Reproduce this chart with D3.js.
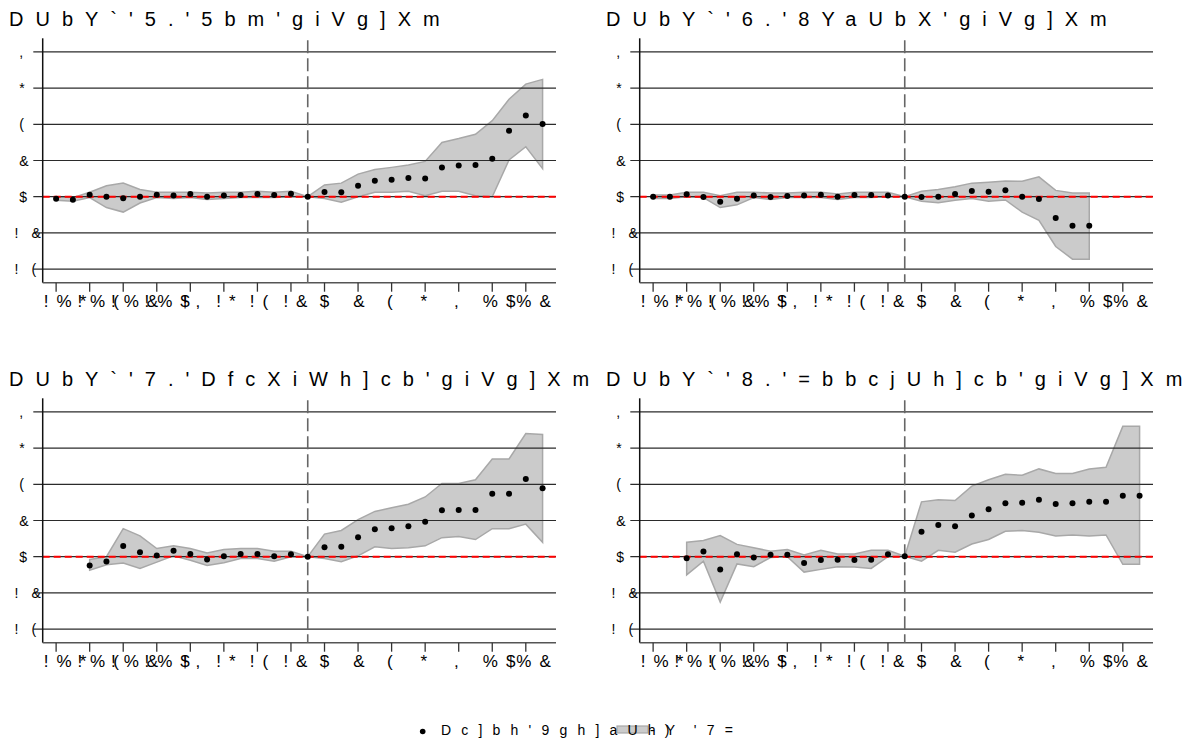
<!DOCTYPE html>
<html>
<head>
<meta charset="utf-8">
<style type="text/css">
body { margin: 0; background: #fff; }
text { font-family: "Liberation Sans", Arial, sans-serif; fill: #000; }
.grid { stroke: #2b2b2b; stroke-width: 1.2; }
.band { fill: #cbcbcb; stroke: #a8a8a8; stroke-width: 1.5; }
.zero { stroke: #ff0000; stroke-width: 2; stroke-dasharray: 7,4; }
.vline { stroke: #666; stroke-width: 1.6; stroke-dasharray: 13,5; }
</style>
<script src="https://cdn.jsdelivr.net/npm/d3@7"></script>
</head>
<body>
<script type="text/javascript">
var width = 1191, height = 747;

// event time
var times = [-16,-15,-14,-13,-12,-11,-10,-9,-8,-7,-6,-5,-4,-3,-2,-1,0,1,2,3,4,5,6,7,8,9,10,11,12,13];
var xTicks = [-16,-14,-12,-10,-8,-6,-4,-2,0,2,4,6,8,10,12];
var yTicks = [-4,-2,0,2,4,6,8];
var titles = ["Panel A: Any subsidy", "Panel B: Demand subsidy", "Panel C: Production subsidy", "Panel D: Innovation subsidy"];
var legendLabels = ["Point Estimate", "95% CI"];

// Panel A
var estA = [-0.11,-0.17,0.11,0,-0.09,0,0.11,0.06,0.15,0,0.07,0.09,0.15,0.09,0.17,0,0.26,0.24,0.61,0.88,0.94,1.03,1.0,1.62,1.73,1.75,2.09,3.64,4.49,4.01];
var hiA  = [0.0,-0.05,0.25,0.6,0.75,0.4,0.25,0.25,0.25,0.2,0.25,0.25,0.3,0.25,0.3,0,0.65,0.75,1.25,1.5,1.62,1.75,1.95,3.0,3.21,3.45,4.2,5.38,6.22,6.48];
var loA  = [-0.2,-0.25,-0.05,-0.6,-0.85,-0.35,-0.05,-0.1,-0.05,-0.15,-0.1,-0.05,-0.05,-0.05,0.0,0,-0.1,-0.3,0.0,0.25,0.25,0.3,0.05,0.3,0.3,0.05,0.0,2.03,2.76,1.55];

// Panel B
var estB = [0,0,0.13,-0.02,-0.28,-0.11,0.07,-0.02,0.04,0.07,0.11,0,0.09,0.09,0.07,0,-0.02,0,0.15,0.31,0.28,0.35,0,-0.13,-1.18,-1.6,-1.6,null,null,null];
var hiB  = [0.1,0.1,0.25,0.25,0.05,0.25,0.25,0.2,0.2,0.25,0.25,0.15,0.25,0.25,0.25,0,0.3,0.4,0.55,0.75,0.8,0.87,0.85,1.1,0.35,0.2,0.2,null,null,null];
var loB  = [-0.1,-0.1,0.0,-0.05,-0.6,-0.45,-0.05,-0.15,-0.05,-0.05,-0.05,-0.15,-0.05,-0.05,0.0,0,-0.25,-0.33,-0.2,-0.1,-0.25,-0.18,-0.85,-1.3,-2.75,-3.45,-3.45,null,null,null];

// Panel C
var estC = [null,null,-0.48,-0.26,0.59,0.24,0.07,0.33,0.15,-0.15,0.02,0.15,0.15,0.02,0.13,0,0.52,0.55,1.07,1.51,1.57,1.68,1.93,2.56,2.58,2.58,3.48,3.48,4.29,3.78];
var hiC  = [null,null,-0.15,0.0,1.55,1.15,0.45,0.6,0.45,0.2,0.4,0.45,0.45,0.3,0.3,0,1.25,1.45,2.05,2.5,2.7,2.9,3.3,4.05,4.05,4.25,5.4,5.4,6.8,6.75];
var loC  = [null,null,-0.75,-0.45,-0.35,-0.65,-0.3,0.05,-0.2,-0.48,-0.33,-0.1,-0.1,-0.25,0.0,0,-0.1,-0.28,0.05,0.55,0.45,0.5,0.6,1.05,1.12,0.95,1.55,1.55,1.8,0.8];

// Panel D
var estD = [null,null,-0.09,0.29,-0.7,0.13,-0.04,0.11,0.11,-0.35,-0.18,-0.17,-0.18,-0.17,0.13,0.03,1.38,1.75,1.68,2.28,2.62,2.95,2.98,3.15,2.91,2.95,3.04,3.04,3.37,3.37];
var hiD  = [null,null,0.8,0.9,1.17,0.68,0.5,0.3,0.4,0.1,0.35,0.15,0.15,0.35,0.35,0.03,3.03,3.15,3.1,3.9,4.25,4.55,4.5,4.85,4.6,4.6,4.85,4.94,7.2,7.2];
var loD  = [null,null,-1.0,-0.25,-2.5,-0.4,-0.55,-0.05,0.0,-0.85,-0.7,-0.55,-0.57,-0.65,0.0,0.03,-0.25,0.35,0.25,0.7,0.95,1.4,1.45,1.35,1.15,1.2,1.15,1.2,-0.42,-0.42];

var panels = [
	{ title: titles[0], est: estA, hi: hiA, lo: loA, dx: 0,   dy: 0 },
	{ title: titles[1], est: estB, hi: hiB, lo: loB, dx: 597, dy: 0 },
	{ title: titles[2], est: estC, hi: hiC, lo: loC, dx: 0,   dy: 360 },
	{ title: titles[3], est: estD, hi: hiD, lo: loD, dx: 597, dy: 360 }
];

// the picture shows every character shifted down by 12 code points
function garble(s) {
	return s.split("").map(function(c) {
		if (c === " ") return "'";
		var k = c.charCodeAt(0) - 12;
		return k < 33 ? " " : String.fromCharCode(k);
	}).join("");
}
function tickText(v) { return String(v); }

var svg = d3.select("body").append("svg").attr("width", width).attr("height", height);

// measure the width of the real label text
var meas = svg.append("text").attr("x", -1000).attr("y", -1000);
function textWidth(s, size) {
	meas.style("font-size", size + "px").text(s);
	return meas.node().getComputedTextLength();
}

var x = d3.scaleLinear().domain([-16.8, 13.8]).range([42.7, 556]);
var y = d3.scaleLinear().domain([-4.75, 8.75]).range([282.7, 38.3]);

panels.forEach(function(p) {
	var g = svg.append("g").attr("transform", "translate(" + p.dx + "," + p.dy + ")");
	var pts = times.map(function(t, i) { return { t: t, e: p.est[i], hi: p.hi[i], lo: p.lo[i] }; })
		.filter(function(d) { return d.e !== null; });

	// title
	g.append("text").attr("x", 9).attr("y", 26)
		.style("font-size", "20px").style("letter-spacing", "12px")
		.text(garble(p.title));

	// CI band
	var area = d3.area().x(function(d) { return x(d.t); })
		.y0(function(d) { return y(d.lo); }).y1(function(d) { return y(d.hi); });
	g.append("path").datum(pts).attr("class", "band").attr("d", area);

	// grid lines with y ticks
	g.selectAll(".grid").data(yTicks).enter().append("line")
		.attr("class", "grid")
		.attr("x1", 33.3).attr("x2", x.range()[1])
		.attr("y1", function(d) { return y(d); }).attr("y2", function(d) { return y(d); });

	// y labels
	g.selectAll(".ylab").data(yTicks).enter().append("text")
		.attr("class", "ylab")
		.attr("x", function(d) { return 27 - textWidth(tickText(d), 14); })
		.attr("y", function(d) { return y(d); })
		.attr("dy", "0.36em")
		.style("font-size", "14px").style("letter-spacing", "13px")
		.text(function(d) { return garble(tickText(d)); });

	// zero reference
	g.append("line").attr("class", "zero")
		.attr("x1", x.range()[0]).attr("x2", x.range()[1])
		.attr("y1", y(0)).attr("y2", y(0));

	// axes
	g.append("line").attr("x1", x.range()[0]).attr("x2", x.range()[0])
		.attr("y1", y.range()[1]).attr("y2", y.range()[0])
		.style("stroke", "#111").style("stroke-width", 1.5);
	g.append("line").attr("x1", x.range()[0]).attr("x2", x.range()[1])
		.attr("y1", y.range()[0]).attr("y2", y.range()[0])
		.style("stroke", "#555").style("stroke-width", 1.5);
	g.selectAll(".xtick").data(xTicks).enter().append("line")
		.attr("class", "xtick")
		.attr("x1", function(d) { return x(d); }).attr("x2", function(d) { return x(d); })
		.attr("y1", y.range()[0]).attr("y2", y.range()[0] + 9)
		.style("stroke", "#333").style("stroke-width", 1.3);
	g.selectAll(".xlab").data(xTicks).enter().append("text")
		.attr("class", "xlab")
		.attr("x", function(d) { return x(d) - textWidth(tickText(d), 17) / 2; })
		.attr("y", 306.7)
		.style("font-size", "17px").style("letter-spacing", "8px")
		.text(function(d) { return garble(tickText(d)); });

	// treatment line
	g.append("line").attr("class", "vline")
		.attr("x1", x(-1)).attr("x2", x(-1))
		.attr("y1", y.range()[1] + 2).attr("y2", y.range()[0]);

	// point estimates
	g.selectAll(".pt").data(pts).enter().append("circle")
		.attr("class", "pt")
		.attr("cx", function(d) { return x(d.t); })
		.attr("cy", function(d) { return y(d.e); })
		.attr("r", 3).style("fill", "#000");
});

// legend
var lg = svg.append("g");
lg.append("circle").attr("cx", 422.7).attr("cy", 731.5).attr("r", 2.8).style("fill", "#000");
lg.append("rect").attr("x", 617).attr("y", 726).attr("width", 31).attr("height", 7)
	.style("fill", "#cbcbcb").style("stroke", "#a8a8a8").style("stroke-width", 1.2);
lg.append("text").attr("x", 441).attr("y", 735)
	.style("font-size", "14px").style("letter-spacing", "10.2px")
	.text(garble(legendLabels[0]));
lg.append("text").attr("x", 650).attr("y", 735)
	.style("font-size", "14px").style("letter-spacing", "10.2px")
	.text(garble(legendLabels[1]));

meas.remove();
</script>
</body>
</html>
